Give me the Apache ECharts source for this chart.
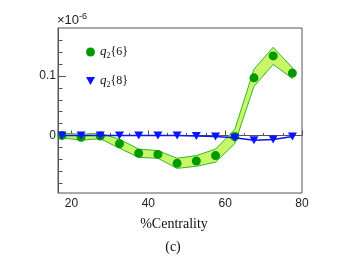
<!DOCTYPE html>
<html><head><meta charset="utf-8">
<script src="https://cdn.jsdelivr.net/npm/echarts@6/dist/echarts.min.js"></script>
<style>html,body{margin:0;padding:0;background:#fff}#c{width:347px;height:263px}</style>
</head><body><div id="c"></div>
<script>
const centrality = [17.5, 22.5, 27.5, 32.5, 37.5, 42.5, 47.5, 52.5, 57.5, 62.5, 67.5, 72.5, 77.5];
const q2_6 = [0.000, -0.003, -0.001, -0.014, -0.030, -0.032, -0.047, -0.043, -0.034, -0.002, 0.097, 0.134, 0.105];
const q2_6_err = [0.004, 0.005, 0.0045, 0.0075, 0.007, 0.0065, 0.0085, 0.009, 0.011, 0.012, 0.0145, 0.0145, 0.009];
const q2_8 = [0, 0, 0, 0, 0, 0, 0, -0.001, -0.002, -0.004, -0.008, -0.007, -0.002];
const xTickLabels = [20, 40, 60, 80];
const xMinorTicks = [25, 30, 35, 45, 50, 55, 65, 70, 75];
const yTickLabels = [0, 0.1];
const yMinorTicks = [-0.08, -0.06, -0.04, -0.02, 0.02, 0.04, 0.06, 0.08, 0.12, 0.14, 0.16];

const upperPts = centrality.map((c, i) => [c, q2_6[i] + q2_6_err[i]]);
const lowerPts = centrality.map((c, i) => [c, q2_6[i] - q2_6_err[i]]);

const XMIN = 16.5, XMAX = 80, YMIN = -0.097, YMAX = 0.181;
const axisColor = '#555';
const labelFont = 'Liberation Sans, Arial, sans-serif';
const serif = 'Liberation Serif, Times New Roman, serif';

const chart = echarts.init(document.getElementById('c'), null, {renderer: 'canvas'});
chart.setOption({
  animation: false,
  backgroundColor: '#fff',
  grid: {left: 58, top: 28, width: 244, height: 165, show: true, borderColor: axisColor, borderWidth: 1, backgroundColor: 'transparent'},
  xAxis: [
    {type: 'value', min: XMIN, max: XMAX, position: 'bottom',
     axisLine: {show: true, lineStyle: {color: axisColor, width: 1}},
     axisTick: {show: true, inside: true, length: 5, customValues: xTickLabels, lineStyle: {color: axisColor}},
     axisLabel: {show: true, customValues: xTickLabels, margin: 5, color: '#222', fontSize: 12, fontFamily: labelFont},
     splitLine: {show: false}},
    {type: 'value', min: XMIN, max: XMAX, position: 'bottom', gridIndex: 0,
     axisLine: {show: false},
     axisTick: {show: true, inside: true, length: 2.5, customValues: xMinorTicks, lineStyle: {color: axisColor}},
     axisLabel: {show: false}, splitLine: {show: false}}
  ],
  yAxis: [
    {type: 'value', min: YMIN, max: YMAX, position: 'left',
     axisLine: {show: true, lineStyle: {color: axisColor, width: 1}},
     axisTick: {show: true, inside: true, length: 8, customValues: yTickLabels, lineStyle: {color: axisColor}},
     axisLabel: {show: true, customValues: yTickLabels, margin: 2, color: '#222', fontSize: 12, fontFamily: labelFont},
     splitLine: {show: false}},
    {type: 'value', min: YMIN, max: YMAX, position: 'left',
     axisLine: {show: false},
     axisTick: {show: true, inside: true, length: 4.5, customValues: yMinorTicks, lineStyle: {color: axisColor}},
     axisLabel: {show: false}, splitLine: {show: false}}
  ],
  legend: {
    left: 81, top: 39, orient: 'vertical', itemGap: 13, itemWidth: 9, itemHeight: 9,
    data: [
      {name: 'q2{6}', icon: 'circle'},
      {name: 'q2{8}', icon: 'path://M0,0L10,0L5,9Z'}
    ],
    formatter: (name) => name === 'q2{6}' ? '{i|q}{s|2}{6}' : '{i|q}{s|2}{8}',
    textStyle: {fontFamily: serif, fontSize: 12, color: '#111', lineHeight: 16,
      rich: {
        i: {fontFamily: serif, fontStyle: 'italic', fontSize: 13, color: '#111', lineHeight: 16},
        s: {fontFamily: serif, fontSize: 8, color: '#111', lineHeight: 10, verticalAlign: 'bottom'}
      }}
  },
  series: [
    {type: 'custom', name: 'band', xAxisIndex: 0, yAxisIndex: 0, z: 1, silent: true,
     data: centrality.map((c, i) => [c, q2_6[i]]),
     renderItem: (params, api) => {
       if (params.dataIndex !== 0) return null;
       const pts = upperPts.map(p => api.coord(p)).concat(lowerPts.slice().reverse().map(p => api.coord(p)));
       return {type: 'polygon', shape: {points: pts},
         style: {fill: '#c8f76a', stroke: '#35b52e', lineWidth: 1}};
     }},
    {type: 'line', name: 'q2{6}', xAxisIndex: 0, yAxisIndex: 0, z: 3,
     data: centrality.map((c, i) => [c, q2_6[i]]),
     symbol: 'circle', symbolSize: 9, showSymbol: true,
     lineStyle: {width: 0, opacity: 0},
     itemStyle: {color: '#009a00'}},
    {type: 'line', name: 'q2{8}', xAxisIndex: 0, yAxisIndex: 0, z: 4,
     data: centrality.map((c, i) => [c, q2_8[i]]),
     symbol: 'triangle', symbolRotate: 180, symbolSize: [9, 8], showSymbol: true,
     lineStyle: {width: 1.5, color: '#0a14ff'},
     itemStyle: {color: '#0a14ff'}}
  ],
  graphic: [
    {type: 'text', left: 57, top: 12, style: {text: '×10{sup|-6}', fontSize: 13, fontFamily: labelFont, fill: '#222',
      rich: {sup: {fontSize: 9, fontFamily: labelFont, fill: '#222', verticalAlign: 'top', lineHeight: 10}}, lineHeight: 16}},
    {type: 'text', x: 174, y: 224, style: {text: '%Centrality', fontSize: 14, fontFamily: serif, fill: '#111', align: 'center', verticalAlign: 'middle'}},
    {type: 'text', x: 173, y: 247, style: {text: '(c)', fontSize: 14, fontFamily: serif, fill: '#111', align: 'center', verticalAlign: 'middle'}}
  ]
});
</script></body></html>
